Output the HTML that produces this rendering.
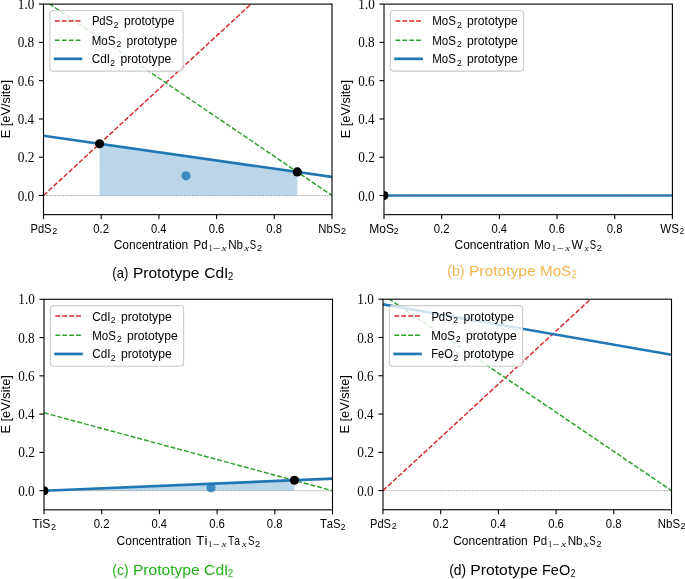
<!DOCTYPE html>
<html><head><meta charset="utf-8"><style>
html,body{margin:0;padding:0;background:#fff;overflow:hidden;}
svg{display:block;will-change:transform;}
text{font-kerning:none;}
</style></head><body>
<svg width="685" height="579" viewBox="0 0 685 579">
<rect width="685" height="579" fill="#fff"/>
<clipPath id="clipa"><rect x="43.5" y="4.1" width="288.5" height="210.54"/></clipPath>
<clipPath id="clipb"><rect x="384.0" y="4.1" width="288.4" height="210.54"/></clipPath>
<clipPath id="clipc"><rect x="44.0" y="299.3" width="288.5" height="210.54"/></clipPath>
<clipPath id="clipd"><rect x="383.0" y="299.2" width="288.5" height="210.54"/></clipPath>
<line x1="43.5" y1="195.5" x2="332.0" y2="195.5" stroke="#808080" stroke-width="0.6" stroke-dasharray="1.8 0.9" clip-path="url(#clipa)"/>
<polygon points="99.58,195.5 99.58,143.76 297.29,171.96 297.29,195.5" fill="#1f77b4" fill-opacity="0.3" clip-path="url(#clipa)"/>
<line x1="43.5" y1="195.5" x2="332.0" y2="-70.55" stroke="#d62728" stroke-width="1.45" stroke-dasharray="4.9 2.0" clip-path="url(#clipa)"/>
<line x1="43.5" y1="-0.23" x2="332.0" y2="195.5" stroke="#2ca02c" stroke-width="1.45" stroke-dasharray="4.9 2.0" clip-path="url(#clipa)"/>
<line x1="43.5" y1="135.78" x2="332.0" y2="176.9" stroke="#1f77b4" stroke-width="2.6" clip-path="url(#clipa)"/>
<circle cx="186.02" cy="175.79" r="4.6" fill="#1f77b4" fill-opacity="0.8" clip-path="url(#clipa)"/>
<circle cx="99.58" cy="143.76" r="4.6" fill="#000" clip-path="url(#clipa)"/>
<circle cx="297.29" cy="171.96" r="4.6" fill="#000" clip-path="url(#clipa)"/>
<rect x="43.5" y="4.1" width="288.5" height="210.54" fill="none" stroke="#000" stroke-width="1.1"/>
<line x1="38.9" y1="195.5" x2="43.5" y2="195.5" stroke="#000" stroke-width="1.1"/>
<line x1="43.5" y1="214.64" x2="43.5" y2="219.04" stroke="#000" stroke-width="1.1"/>
<line x1="38.9" y1="157.22" x2="43.5" y2="157.22" stroke="#000" stroke-width="1.1"/>
<line x1="101.2" y1="214.64" x2="101.2" y2="219.04" stroke="#000" stroke-width="1.1"/>
<line x1="38.9" y1="118.94" x2="43.5" y2="118.94" stroke="#000" stroke-width="1.1"/>
<line x1="158.9" y1="214.64" x2="158.9" y2="219.04" stroke="#000" stroke-width="1.1"/>
<line x1="38.9" y1="80.66" x2="43.5" y2="80.66" stroke="#000" stroke-width="1.1"/>
<line x1="216.6" y1="214.64" x2="216.6" y2="219.04" stroke="#000" stroke-width="1.1"/>
<line x1="38.9" y1="42.38" x2="43.5" y2="42.38" stroke="#000" stroke-width="1.1"/>
<line x1="274.3" y1="214.64" x2="274.3" y2="219.04" stroke="#000" stroke-width="1.1"/>
<line x1="38.9" y1="4.1" x2="43.5" y2="4.1" stroke="#000" stroke-width="1.1"/>
<line x1="332.0" y1="214.64" x2="332.0" y2="219.04" stroke="#000" stroke-width="1.1"/>
<text x="17.7" y="200.55" font-size="13.6" font-family='"Liberation Serif", serif' textLength="16.51" lengthAdjust="spacingAndGlyphs">0.0</text>
<text x="17.69" y="162.27" font-size="13.6" font-family='"Liberation Serif", serif' textLength="16.75" lengthAdjust="spacingAndGlyphs">0.2</text>
<text x="17.71" y="123.99" font-size="13.6" font-family='"Liberation Serif", serif' textLength="16.2" lengthAdjust="spacingAndGlyphs">0.4</text>
<text x="17.7" y="85.71" font-size="13.6" font-family='"Liberation Serif", serif' textLength="16.39" lengthAdjust="spacingAndGlyphs">0.6</text>
<text x="17.7" y="47.43" font-size="13.6" font-family='"Liberation Serif", serif' textLength="16.51" lengthAdjust="spacingAndGlyphs">0.8</text>
<text x="17.84" y="9.15" font-size="13.6" font-family='"Liberation Serif", serif' textLength="16.46" lengthAdjust="spacingAndGlyphs">1.0</text>
<rect x="49.9" y="10.5" width="133.2" height="60.6" rx="3" ry="3" fill="#fff" fill-opacity="0.8" stroke="#cccccc" stroke-width="1.1"/>
<line x1="54.9" y1="20.95" x2="81.2" y2="20.95" stroke="#d62728" stroke-width="1.5" stroke-dasharray="4.8 2.1"/>
<text x="91.88" y="25.45" font-size="12.6" font-family='"Liberation Sans", sans-serif' textLength="21.24" lengthAdjust="spacingAndGlyphs">PdS</text>
<text x="113.67" y="27.65" font-size="9.4" font-family='"Liberation Sans", sans-serif' textLength="4.76" lengthAdjust="spacingAndGlyphs">2</text>
<text x="123.92" y="25.45" font-size="12.6" font-family='"Liberation Sans", sans-serif' textLength="50.62" lengthAdjust="spacingAndGlyphs">prototype</text>
<line x1="54.9" y1="40.15" x2="81.2" y2="40.15" stroke="#2ca02c" stroke-width="1.5" stroke-dasharray="4.8 2.1"/>
<text x="91.66" y="44.6" font-size="12.6" font-family='"Liberation Sans", sans-serif' textLength="23.67" lengthAdjust="spacingAndGlyphs">MoS</text>
<text x="116.57" y="46.8" font-size="9.4" font-family='"Liberation Sans", sans-serif' textLength="4.76" lengthAdjust="spacingAndGlyphs">2</text>
<text x="126.52" y="44.6" font-size="12.6" font-family='"Liberation Sans", sans-serif' textLength="50.72" lengthAdjust="spacingAndGlyphs">prototype</text>
<line x1="53.8" y1="58.85" x2="82.3" y2="58.85" stroke="#1f77b4" stroke-width="2.7"/>
<text x="91.8" y="63.3" font-size="12.6" font-family='"Liberation Sans", sans-serif' textLength="18.28" lengthAdjust="spacingAndGlyphs">CdI</text>
<text x="110.17" y="65.5" font-size="9.4" font-family='"Liberation Sans", sans-serif' textLength="4.76" lengthAdjust="spacingAndGlyphs">2</text>
<text x="120.52" y="63.3" font-size="12.6" font-family='"Liberation Sans", sans-serif' textLength="50.62" lengthAdjust="spacingAndGlyphs">prototype</text>
<text x="93.26" y="232.8" font-size="12.3" font-family='"Liberation Sans", sans-serif' textLength="15.82" lengthAdjust="spacingAndGlyphs">0.2</text>
<text x="150.96" y="232.8" font-size="12.3" font-family='"Liberation Sans", sans-serif' textLength="15.57" lengthAdjust="spacingAndGlyphs">0.4</text>
<text x="208.66" y="232.8" font-size="12.3" font-family='"Liberation Sans", sans-serif' textLength="15.74" lengthAdjust="spacingAndGlyphs">0.6</text>
<text x="266.36" y="232.8" font-size="12.3" font-family='"Liberation Sans", sans-serif' textLength="15.73" lengthAdjust="spacingAndGlyphs">0.8</text>
<text x="30.49" y="232.8" font-size="12.3" font-family='"Liberation Sans", sans-serif' textLength="21.02" lengthAdjust="spacingAndGlyphs">PdS</text>
<text x="52.15" y="234.2" font-size="8.6" font-family='"Liberation Sans", sans-serif' textLength="5.01" lengthAdjust="spacingAndGlyphs">2</text>
<text x="318.37" y="232.8" font-size="12.3" font-family='"Liberation Sans", sans-serif' textLength="22.16" lengthAdjust="spacingAndGlyphs">NbS</text>
<text x="341.04" y="234.2" font-size="8.6" font-family='"Liberation Sans", sans-serif' textLength="5.13" lengthAdjust="spacingAndGlyphs">2</text>
<text x="113.69" y="248.7" font-size="12.2" font-family='"Liberation Sans", sans-serif' textLength="74.59" lengthAdjust="spacingAndGlyphs">Concentration</text>
<text x="193.56" y="248.7" font-size="12.2" font-family='"Liberation Sans", sans-serif' textLength="14.09" lengthAdjust="spacingAndGlyphs">Pd</text>
<text x="208.43" y="251.1" font-size="8.6" font-family='"Liberation Serif", serif' fill="#111">1</text>
<text x="213.61" y="251.1" font-size="8.6" font-family='"Liberation Serif", serif' fill="#111" textLength="6.67" lengthAdjust="spacingAndGlyphs" stroke="#111" stroke-width="0.15">−</text>
<text x="221.64" y="251.1" font-size="8.6" font-family='"Liberation Serif", serif' font-style="italic" fill="#111" textLength="5.24" lengthAdjust="spacingAndGlyphs">x</text>
<text x="228.14" y="248.7" font-size="12.2" font-family='"Liberation Sans", sans-serif' textLength="14.95" lengthAdjust="spacingAndGlyphs">Nb</text>
<text x="244.33" y="251.1" font-size="8.6" font-family='"Liberation Serif", serif' font-style="italic" fill="#111" textLength="4.85" lengthAdjust="spacingAndGlyphs">x</text>
<text x="249.87" y="248.7" font-size="12.2" font-family='"Liberation Sans", sans-serif' textLength="6.37" lengthAdjust="spacingAndGlyphs">S</text>
<text x="256.94" y="250.7" font-size="8.4" font-family='"Liberation Sans", sans-serif' textLength="5.13" lengthAdjust="spacingAndGlyphs">2</text>
<text transform="rotate(-90)" x="-138.35" y="9.8" font-size="12.2" font-family='"Liberation Sans", sans-serif' textLength="58.36" lengthAdjust="spacingAndGlyphs">E [eV/site]</text>
<line x1="384.0" y1="195.5" x2="672.4" y2="195.5" stroke="#1f77b4" stroke-width="2.6" clip-path="url(#clipb)"/>
<line x1="384.0" y1="195.5" x2="672.4" y2="195.5" stroke="#808080" stroke-width="0.6" stroke-dasharray="1.8 0.9" clip-path="url(#clipb)"/>
<circle cx="384.0" cy="195.5" r="4.5" fill="#000" clip-path="url(#clipb)"/>
<rect x="384.0" y="4.1" width="288.4" height="210.54" fill="none" stroke="#000" stroke-width="1.1"/>
<line x1="379.4" y1="195.5" x2="384.0" y2="195.5" stroke="#000" stroke-width="1.1"/>
<line x1="384.0" y1="214.64" x2="384.0" y2="219.04" stroke="#000" stroke-width="1.1"/>
<line x1="379.4" y1="157.22" x2="384.0" y2="157.22" stroke="#000" stroke-width="1.1"/>
<line x1="441.68" y1="214.64" x2="441.68" y2="219.04" stroke="#000" stroke-width="1.1"/>
<line x1="379.4" y1="118.94" x2="384.0" y2="118.94" stroke="#000" stroke-width="1.1"/>
<line x1="499.36" y1="214.64" x2="499.36" y2="219.04" stroke="#000" stroke-width="1.1"/>
<line x1="379.4" y1="80.66" x2="384.0" y2="80.66" stroke="#000" stroke-width="1.1"/>
<line x1="557.04" y1="214.64" x2="557.04" y2="219.04" stroke="#000" stroke-width="1.1"/>
<line x1="379.4" y1="42.38" x2="384.0" y2="42.38" stroke="#000" stroke-width="1.1"/>
<line x1="614.72" y1="214.64" x2="614.72" y2="219.04" stroke="#000" stroke-width="1.1"/>
<line x1="379.4" y1="4.1" x2="384.0" y2="4.1" stroke="#000" stroke-width="1.1"/>
<line x1="672.4" y1="214.64" x2="672.4" y2="219.04" stroke="#000" stroke-width="1.1"/>
<text x="358.2" y="200.55" font-size="13.6" font-family='"Liberation Serif", serif' textLength="16.51" lengthAdjust="spacingAndGlyphs">0.0</text>
<text x="358.19" y="162.27" font-size="13.6" font-family='"Liberation Serif", serif' textLength="16.75" lengthAdjust="spacingAndGlyphs">0.2</text>
<text x="358.21" y="123.99" font-size="13.6" font-family='"Liberation Serif", serif' textLength="16.2" lengthAdjust="spacingAndGlyphs">0.4</text>
<text x="358.2" y="85.71" font-size="13.6" font-family='"Liberation Serif", serif' textLength="16.39" lengthAdjust="spacingAndGlyphs">0.6</text>
<text x="358.2" y="47.43" font-size="13.6" font-family='"Liberation Serif", serif' textLength="16.51" lengthAdjust="spacingAndGlyphs">0.8</text>
<text x="358.34" y="9.15" font-size="13.6" font-family='"Liberation Serif", serif' textLength="16.46" lengthAdjust="spacingAndGlyphs">1.0</text>
<rect x="390.4" y="10.5" width="133.2" height="60.6" rx="3" ry="3" fill="#fff" fill-opacity="0.8" stroke="#cccccc" stroke-width="1.1"/>
<line x1="395.4" y1="20.95" x2="421.7" y2="20.95" stroke="#d62728" stroke-width="1.5" stroke-dasharray="4.8 2.1"/>
<text x="432.16" y="25.45" font-size="12.6" font-family='"Liberation Sans", sans-serif' textLength="23.67" lengthAdjust="spacingAndGlyphs">MoS</text>
<text x="457.07" y="27.65" font-size="9.4" font-family='"Liberation Sans", sans-serif' textLength="4.76" lengthAdjust="spacingAndGlyphs">2</text>
<text x="467.02" y="25.45" font-size="12.6" font-family='"Liberation Sans", sans-serif' textLength="50.72" lengthAdjust="spacingAndGlyphs">prototype</text>
<line x1="395.4" y1="40.15" x2="421.7" y2="40.15" stroke="#2ca02c" stroke-width="1.5" stroke-dasharray="4.8 2.1"/>
<text x="432.16" y="44.6" font-size="12.6" font-family='"Liberation Sans", sans-serif' textLength="23.67" lengthAdjust="spacingAndGlyphs">MoS</text>
<text x="457.07" y="46.8" font-size="9.4" font-family='"Liberation Sans", sans-serif' textLength="4.76" lengthAdjust="spacingAndGlyphs">2</text>
<text x="467.02" y="44.6" font-size="12.6" font-family='"Liberation Sans", sans-serif' textLength="50.72" lengthAdjust="spacingAndGlyphs">prototype</text>
<line x1="394.3" y1="58.85" x2="422.8" y2="58.85" stroke="#1f77b4" stroke-width="2.7"/>
<text x="432.16" y="63.3" font-size="12.6" font-family='"Liberation Sans", sans-serif' textLength="23.67" lengthAdjust="spacingAndGlyphs">MoS</text>
<text x="457.07" y="65.5" font-size="9.4" font-family='"Liberation Sans", sans-serif' textLength="4.76" lengthAdjust="spacingAndGlyphs">2</text>
<text x="467.02" y="63.3" font-size="12.6" font-family='"Liberation Sans", sans-serif' textLength="50.72" lengthAdjust="spacingAndGlyphs">prototype</text>
<text x="433.74" y="232.8" font-size="12.3" font-family='"Liberation Sans", sans-serif' textLength="15.82" lengthAdjust="spacingAndGlyphs">0.2</text>
<text x="491.42" y="232.8" font-size="12.3" font-family='"Liberation Sans", sans-serif' textLength="15.57" lengthAdjust="spacingAndGlyphs">0.4</text>
<text x="549.1" y="232.8" font-size="12.3" font-family='"Liberation Sans", sans-serif' textLength="15.74" lengthAdjust="spacingAndGlyphs">0.6</text>
<text x="606.78" y="232.8" font-size="12.3" font-family='"Liberation Sans", sans-serif' textLength="15.73" lengthAdjust="spacingAndGlyphs">0.8</text>
<text x="369.21" y="232.8" font-size="12.3" font-family='"Liberation Sans", sans-serif' textLength="24.74" lengthAdjust="spacingAndGlyphs">MoS</text>
<text x="393.85" y="234.2" font-size="8.6" font-family='"Liberation Sans", sans-serif' textLength="5.01" lengthAdjust="spacingAndGlyphs">2</text>
<text x="660.15" y="232.8" font-size="12.3" font-family='"Liberation Sans", sans-serif' textLength="18.79" lengthAdjust="spacingAndGlyphs">WS</text>
<text x="679.81" y="234.2" font-size="8.6" font-family='"Liberation Sans", sans-serif' textLength="4.27" lengthAdjust="spacingAndGlyphs">2</text>
<text x="454.49" y="248.7" font-size="12.2" font-family='"Liberation Sans", sans-serif' textLength="74.89" lengthAdjust="spacingAndGlyphs">Concentration</text>
<text x="534.34" y="248.7" font-size="12.2" font-family='"Liberation Sans", sans-serif' textLength="16.25" lengthAdjust="spacingAndGlyphs">Mo</text>
<text x="551.78" y="251.1" font-size="8.6" font-family='"Liberation Serif", serif' fill="#111">1</text>
<text x="557.55" y="251.1" font-size="8.6" font-family='"Liberation Serif", serif' fill="#111" textLength="6.18" lengthAdjust="spacingAndGlyphs" stroke="#111" stroke-width="0.15">−</text>
<text x="565.33" y="251.1" font-size="8.6" font-family='"Liberation Serif", serif' font-style="italic" fill="#111" textLength="4.75" lengthAdjust="spacingAndGlyphs">x</text>
<text x="571.55" y="248.7" font-size="12.2" font-family='"Liberation Sans", sans-serif' textLength="11.39" lengthAdjust="spacingAndGlyphs">W</text>
<text x="584.61" y="251.1" font-size="8.6" font-family='"Liberation Serif", serif' font-style="italic" fill="#111" textLength="4.15" lengthAdjust="spacingAndGlyphs">x</text>
<text x="589.77" y="248.7" font-size="12.2" font-family='"Liberation Sans", sans-serif' textLength="6.37" lengthAdjust="spacingAndGlyphs">S</text>
<text x="596.84" y="250.7" font-size="8.4" font-family='"Liberation Sans", sans-serif' textLength="5.13" lengthAdjust="spacingAndGlyphs">2</text>
<text transform="rotate(-90)" x="-138.35" y="350.4" font-size="12.2" font-family='"Liberation Sans", sans-serif' textLength="58.36" lengthAdjust="spacingAndGlyphs">E [eV/site]</text>
<line x1="44.0" y1="490.7" x2="332.5" y2="490.7" stroke="#808080" stroke-width="0.6" stroke-dasharray="1.8 0.9" clip-path="url(#clipc)"/>
<polygon points="44.0,490.7 294.42,480.23 294.42,490.7" fill="#1f77b4" fill-opacity="0.3" clip-path="url(#clipc)"/>
<line x1="44.0" y1="412.8" x2="332.5" y2="490.7" stroke="#2ca02c" stroke-width="1.45" stroke-dasharray="4.9 2.0" clip-path="url(#clipc)"/>
<line x1="44.0" y1="490.7" x2="332.5" y2="478.64" stroke="#1f77b4" stroke-width="2.6" clip-path="url(#clipc)"/>
<circle cx="211.04" cy="487.64" r="4.6" fill="#1f77b4" fill-opacity="0.8" clip-path="url(#clipc)"/>
<circle cx="44.0" cy="490.7" r="4.5" fill="#000" clip-path="url(#clipc)"/>
<circle cx="294.42" cy="480.23" r="4.6" fill="#000" clip-path="url(#clipc)"/>
<rect x="44.0" y="299.3" width="288.5" height="210.54" fill="none" stroke="#000" stroke-width="1.1"/>
<line x1="39.4" y1="490.7" x2="44.0" y2="490.7" stroke="#000" stroke-width="1.1"/>
<line x1="44.0" y1="509.84" x2="44.0" y2="514.24" stroke="#000" stroke-width="1.1"/>
<line x1="39.4" y1="452.42" x2="44.0" y2="452.42" stroke="#000" stroke-width="1.1"/>
<line x1="101.7" y1="509.84" x2="101.7" y2="514.24" stroke="#000" stroke-width="1.1"/>
<line x1="39.4" y1="414.14" x2="44.0" y2="414.14" stroke="#000" stroke-width="1.1"/>
<line x1="159.4" y1="509.84" x2="159.4" y2="514.24" stroke="#000" stroke-width="1.1"/>
<line x1="39.4" y1="375.86" x2="44.0" y2="375.86" stroke="#000" stroke-width="1.1"/>
<line x1="217.1" y1="509.84" x2="217.1" y2="514.24" stroke="#000" stroke-width="1.1"/>
<line x1="39.4" y1="337.58" x2="44.0" y2="337.58" stroke="#000" stroke-width="1.1"/>
<line x1="274.8" y1="509.84" x2="274.8" y2="514.24" stroke="#000" stroke-width="1.1"/>
<line x1="39.4" y1="299.3" x2="44.0" y2="299.3" stroke="#000" stroke-width="1.1"/>
<line x1="332.5" y1="509.84" x2="332.5" y2="514.24" stroke="#000" stroke-width="1.1"/>
<text x="18.2" y="495.75" font-size="13.6" font-family='"Liberation Serif", serif' textLength="16.51" lengthAdjust="spacingAndGlyphs">0.0</text>
<text x="18.19" y="457.47" font-size="13.6" font-family='"Liberation Serif", serif' textLength="16.75" lengthAdjust="spacingAndGlyphs">0.2</text>
<text x="18.21" y="419.19" font-size="13.6" font-family='"Liberation Serif", serif' textLength="16.2" lengthAdjust="spacingAndGlyphs">0.4</text>
<text x="18.2" y="380.91" font-size="13.6" font-family='"Liberation Serif", serif' textLength="16.39" lengthAdjust="spacingAndGlyphs">0.6</text>
<text x="18.2" y="342.63" font-size="13.6" font-family='"Liberation Serif", serif' textLength="16.51" lengthAdjust="spacingAndGlyphs">0.8</text>
<text x="18.34" y="304.35" font-size="13.6" font-family='"Liberation Serif", serif' textLength="16.46" lengthAdjust="spacingAndGlyphs">1.0</text>
<rect x="50.4" y="305.6" width="133.2" height="60.6" rx="3" ry="3" fill="#fff" fill-opacity="0.8" stroke="#cccccc" stroke-width="1.1"/>
<line x1="55.4" y1="316.05" x2="81.7" y2="316.05" stroke="#d62728" stroke-width="1.5" stroke-dasharray="4.8 2.1"/>
<text x="92.3" y="320.55" font-size="12.6" font-family='"Liberation Sans", sans-serif' textLength="18.28" lengthAdjust="spacingAndGlyphs">CdI</text>
<text x="110.67" y="322.75" font-size="9.4" font-family='"Liberation Sans", sans-serif' textLength="4.76" lengthAdjust="spacingAndGlyphs">2</text>
<text x="121.02" y="320.55" font-size="12.6" font-family='"Liberation Sans", sans-serif' textLength="50.62" lengthAdjust="spacingAndGlyphs">prototype</text>
<line x1="55.4" y1="335.25" x2="81.7" y2="335.25" stroke="#2ca02c" stroke-width="1.5" stroke-dasharray="4.8 2.1"/>
<text x="92.16" y="339.7" font-size="12.6" font-family='"Liberation Sans", sans-serif' textLength="23.67" lengthAdjust="spacingAndGlyphs">MoS</text>
<text x="117.07" y="341.9" font-size="9.4" font-family='"Liberation Sans", sans-serif' textLength="4.76" lengthAdjust="spacingAndGlyphs">2</text>
<text x="127.02" y="339.7" font-size="12.6" font-family='"Liberation Sans", sans-serif' textLength="50.72" lengthAdjust="spacingAndGlyphs">prototype</text>
<line x1="54.3" y1="353.95" x2="82.8" y2="353.95" stroke="#1f77b4" stroke-width="2.7"/>
<text x="92.3" y="358.4" font-size="12.6" font-family='"Liberation Sans", sans-serif' textLength="18.28" lengthAdjust="spacingAndGlyphs">CdI</text>
<text x="110.67" y="360.6" font-size="9.4" font-family='"Liberation Sans", sans-serif' textLength="4.76" lengthAdjust="spacingAndGlyphs">2</text>
<text x="121.02" y="358.4" font-size="12.6" font-family='"Liberation Sans", sans-serif' textLength="50.62" lengthAdjust="spacingAndGlyphs">prototype</text>
<text x="93.76" y="528.1" font-size="12.3" font-family='"Liberation Sans", sans-serif' textLength="15.82" lengthAdjust="spacingAndGlyphs">0.2</text>
<text x="151.46" y="528.1" font-size="12.3" font-family='"Liberation Sans", sans-serif' textLength="15.57" lengthAdjust="spacingAndGlyphs">0.4</text>
<text x="209.16" y="528.1" font-size="12.3" font-family='"Liberation Sans", sans-serif' textLength="15.74" lengthAdjust="spacingAndGlyphs">0.6</text>
<text x="266.86" y="528.1" font-size="12.3" font-family='"Liberation Sans", sans-serif' textLength="15.73" lengthAdjust="spacingAndGlyphs">0.8</text>
<text x="32.23" y="528.1" font-size="12.3" font-family='"Liberation Sans", sans-serif' textLength="18.13" lengthAdjust="spacingAndGlyphs">TiS</text>
<text x="50.95" y="529.5" font-size="8.6" font-family='"Liberation Sans", sans-serif' textLength="5.01" lengthAdjust="spacingAndGlyphs">2</text>
<text x="319.95" y="528.1" font-size="12.3" font-family='"Liberation Sans", sans-serif' textLength="20.57" lengthAdjust="spacingAndGlyphs">TaS</text>
<text x="340.67" y="529.5" font-size="8.6" font-family='"Liberation Sans", sans-serif' textLength="4.76" lengthAdjust="spacingAndGlyphs">2</text>
<text x="116.59" y="544.7" font-size="12.2" font-family='"Liberation Sans", sans-serif' textLength="74.69" lengthAdjust="spacingAndGlyphs">Concentration</text>
<text x="196.09" y="544.7" font-size="12.2" font-family='"Liberation Sans", sans-serif' textLength="11.43" lengthAdjust="spacingAndGlyphs">Ti</text>
<text x="207.98" y="547.1" font-size="8.6" font-family='"Liberation Serif", serif' fill="#111">1</text>
<text x="213.64" y="547.1" font-size="8.6" font-family='"Liberation Serif", serif' fill="#111" textLength="6.3" lengthAdjust="spacingAndGlyphs" stroke="#111" stroke-width="0.15">−</text>
<text x="221.44" y="547.1" font-size="8.6" font-family='"Liberation Serif", serif' font-style="italic" fill="#111" textLength="5.14" lengthAdjust="spacingAndGlyphs">x</text>
<text x="228.07" y="544.7" font-size="12.2" font-family='"Liberation Sans", sans-serif' textLength="12.03" lengthAdjust="spacingAndGlyphs">Ta</text>
<text x="242.13" y="547.1" font-size="8.6" font-family='"Liberation Serif", serif' font-style="italic" fill="#111" textLength="4.75" lengthAdjust="spacingAndGlyphs">x</text>
<text x="247.97" y="544.7" font-size="12.2" font-family='"Liberation Sans", sans-serif' textLength="6.37" lengthAdjust="spacingAndGlyphs">S</text>
<text x="255.04" y="546.7" font-size="8.4" font-family='"Liberation Sans", sans-serif' textLength="5.13" lengthAdjust="spacingAndGlyphs">2</text>
<text transform="rotate(-90)" x="-433.55" y="10.3" font-size="12.2" font-family='"Liberation Sans", sans-serif' textLength="58.36" lengthAdjust="spacingAndGlyphs">E [eV/site]</text>
<line x1="383.0" y1="490.6" x2="671.5" y2="490.6" stroke="#808080" stroke-width="0.6" stroke-dasharray="1.8 0.9" clip-path="url(#clipd)"/>
<line x1="383.0" y1="490.6" x2="671.5" y2="224.55" stroke="#d62728" stroke-width="1.45" stroke-dasharray="4.9 2.0" clip-path="url(#clipd)"/>
<line x1="383.0" y1="294.87" x2="671.5" y2="490.6" stroke="#2ca02c" stroke-width="1.45" stroke-dasharray="4.9 2.0" clip-path="url(#clipd)"/>
<line x1="383.0" y1="304.37" x2="671.5" y2="354.8" stroke="#1f77b4" stroke-width="2.6" clip-path="url(#clipd)"/>
<rect x="383.0" y="299.2" width="288.5" height="210.54" fill="none" stroke="#000" stroke-width="1.1"/>
<line x1="378.4" y1="490.6" x2="383.0" y2="490.6" stroke="#000" stroke-width="1.1"/>
<line x1="383.0" y1="509.74" x2="383.0" y2="514.14" stroke="#000" stroke-width="1.1"/>
<line x1="378.4" y1="452.32" x2="383.0" y2="452.32" stroke="#000" stroke-width="1.1"/>
<line x1="440.7" y1="509.74" x2="440.7" y2="514.14" stroke="#000" stroke-width="1.1"/>
<line x1="378.4" y1="414.04" x2="383.0" y2="414.04" stroke="#000" stroke-width="1.1"/>
<line x1="498.4" y1="509.74" x2="498.4" y2="514.14" stroke="#000" stroke-width="1.1"/>
<line x1="378.4" y1="375.76" x2="383.0" y2="375.76" stroke="#000" stroke-width="1.1"/>
<line x1="556.1" y1="509.74" x2="556.1" y2="514.14" stroke="#000" stroke-width="1.1"/>
<line x1="378.4" y1="337.48" x2="383.0" y2="337.48" stroke="#000" stroke-width="1.1"/>
<line x1="613.8" y1="509.74" x2="613.8" y2="514.14" stroke="#000" stroke-width="1.1"/>
<line x1="378.4" y1="299.2" x2="383.0" y2="299.2" stroke="#000" stroke-width="1.1"/>
<line x1="671.5" y1="509.74" x2="671.5" y2="514.14" stroke="#000" stroke-width="1.1"/>
<text x="357.2" y="495.65" font-size="13.6" font-family='"Liberation Serif", serif' textLength="16.51" lengthAdjust="spacingAndGlyphs">0.0</text>
<text x="357.19" y="457.37" font-size="13.6" font-family='"Liberation Serif", serif' textLength="16.75" lengthAdjust="spacingAndGlyphs">0.2</text>
<text x="357.21" y="419.09" font-size="13.6" font-family='"Liberation Serif", serif' textLength="16.2" lengthAdjust="spacingAndGlyphs">0.4</text>
<text x="357.2" y="380.81" font-size="13.6" font-family='"Liberation Serif", serif' textLength="16.39" lengthAdjust="spacingAndGlyphs">0.6</text>
<text x="357.2" y="342.53" font-size="13.6" font-family='"Liberation Serif", serif' textLength="16.51" lengthAdjust="spacingAndGlyphs">0.8</text>
<text x="357.34" y="304.25" font-size="13.6" font-family='"Liberation Serif", serif' textLength="16.46" lengthAdjust="spacingAndGlyphs">1.0</text>
<rect x="389.4" y="305.6" width="133.2" height="60.6" rx="3" ry="3" fill="#fff" fill-opacity="0.8" stroke="#cccccc" stroke-width="1.1"/>
<line x1="394.4" y1="316.05" x2="420.7" y2="316.05" stroke="#d62728" stroke-width="1.5" stroke-dasharray="4.8 2.1"/>
<text x="431.38" y="320.55" font-size="12.6" font-family='"Liberation Sans", sans-serif' textLength="21.24" lengthAdjust="spacingAndGlyphs">PdS</text>
<text x="453.17" y="322.75" font-size="9.4" font-family='"Liberation Sans", sans-serif' textLength="4.76" lengthAdjust="spacingAndGlyphs">2</text>
<text x="463.42" y="320.55" font-size="12.6" font-family='"Liberation Sans", sans-serif' textLength="50.62" lengthAdjust="spacingAndGlyphs">prototype</text>
<line x1="394.4" y1="335.25" x2="420.7" y2="335.25" stroke="#2ca02c" stroke-width="1.5" stroke-dasharray="4.8 2.1"/>
<text x="431.16" y="339.7" font-size="12.6" font-family='"Liberation Sans", sans-serif' textLength="23.67" lengthAdjust="spacingAndGlyphs">MoS</text>
<text x="456.07" y="341.9" font-size="9.4" font-family='"Liberation Sans", sans-serif' textLength="4.76" lengthAdjust="spacingAndGlyphs">2</text>
<text x="466.02" y="339.7" font-size="12.6" font-family='"Liberation Sans", sans-serif' textLength="50.72" lengthAdjust="spacingAndGlyphs">prototype</text>
<line x1="393.3" y1="353.95" x2="421.8" y2="353.95" stroke="#1f77b4" stroke-width="2.7"/>
<text x="431.19" y="358.4" font-size="12.6" font-family='"Liberation Sans", sans-serif' textLength="21.65" lengthAdjust="spacingAndGlyphs">FeO</text>
<text x="453.14" y="360.6" font-size="9.4" font-family='"Liberation Sans", sans-serif' textLength="5.13" lengthAdjust="spacingAndGlyphs">2</text>
<text x="463.42" y="358.4" font-size="12.6" font-family='"Liberation Sans", sans-serif' textLength="50.72" lengthAdjust="spacingAndGlyphs">prototype</text>
<text x="432.76" y="528.0" font-size="12.3" font-family='"Liberation Sans", sans-serif' textLength="15.82" lengthAdjust="spacingAndGlyphs">0.2</text>
<text x="490.46" y="528.0" font-size="12.3" font-family='"Liberation Sans", sans-serif' textLength="15.57" lengthAdjust="spacingAndGlyphs">0.4</text>
<text x="548.16" y="528.0" font-size="12.3" font-family='"Liberation Sans", sans-serif' textLength="15.74" lengthAdjust="spacingAndGlyphs">0.6</text>
<text x="605.86" y="528.0" font-size="12.3" font-family='"Liberation Sans", sans-serif' textLength="15.73" lengthAdjust="spacingAndGlyphs">0.8</text>
<text x="369.99" y="528.0" font-size="12.3" font-family='"Liberation Sans", sans-serif' textLength="21.02" lengthAdjust="spacingAndGlyphs">PdS</text>
<text x="391.65" y="529.4" font-size="8.6" font-family='"Liberation Sans", sans-serif' textLength="5.01" lengthAdjust="spacingAndGlyphs">2</text>
<text x="657.87" y="528.0" font-size="12.3" font-family='"Liberation Sans", sans-serif' textLength="22.16" lengthAdjust="spacingAndGlyphs">NbS</text>
<text x="680.54" y="529.4" font-size="8.6" font-family='"Liberation Sans", sans-serif' textLength="5.13" lengthAdjust="spacingAndGlyphs">2</text>
<text x="453.19" y="544.7" font-size="12.2" font-family='"Liberation Sans", sans-serif' textLength="74.59" lengthAdjust="spacingAndGlyphs">Concentration</text>
<text x="533.06" y="544.7" font-size="12.2" font-family='"Liberation Sans", sans-serif' textLength="14.09" lengthAdjust="spacingAndGlyphs">Pd</text>
<text x="547.93" y="547.1" font-size="8.6" font-family='"Liberation Serif", serif' fill="#111">1</text>
<text x="553.11" y="547.1" font-size="8.6" font-family='"Liberation Serif", serif' fill="#111" textLength="6.67" lengthAdjust="spacingAndGlyphs" stroke="#111" stroke-width="0.15">−</text>
<text x="561.14" y="547.1" font-size="8.6" font-family='"Liberation Serif", serif' font-style="italic" fill="#111" textLength="5.24" lengthAdjust="spacingAndGlyphs">x</text>
<text x="567.64" y="544.7" font-size="12.2" font-family='"Liberation Sans", sans-serif' textLength="14.95" lengthAdjust="spacingAndGlyphs">Nb</text>
<text x="583.83" y="547.1" font-size="8.6" font-family='"Liberation Serif", serif' font-style="italic" fill="#111" textLength="4.85" lengthAdjust="spacingAndGlyphs">x</text>
<text x="589.37" y="544.7" font-size="12.2" font-family='"Liberation Sans", sans-serif' textLength="6.37" lengthAdjust="spacingAndGlyphs">S</text>
<text x="596.44" y="546.7" font-size="8.4" font-family='"Liberation Sans", sans-serif' textLength="5.13" lengthAdjust="spacingAndGlyphs">2</text>
<text transform="rotate(-90)" x="-433.55" y="349.3" font-size="12.2" font-family='"Liberation Sans", sans-serif' textLength="58.36" lengthAdjust="spacingAndGlyphs">E [eV/site]</text>
<text x="112.29" y="278.3" font-size="14.5" font-family='"Liberation Sans", sans-serif' textLength="16.03" lengthAdjust="spacingAndGlyphs">(a)</text>
<text x="132.92" y="278.3" font-size="14.5" font-family='"Liberation Sans", sans-serif' textLength="66.57" lengthAdjust="spacingAndGlyphs">Prototype</text>
<text x="204.31" y="278.3" font-size="14.5" font-family='"Liberation Sans", sans-serif' textLength="24.12" lengthAdjust="spacingAndGlyphs">CdI</text>
<text x="227.93" y="279.6" font-size="10.0" font-family='"Liberation Sans", sans-serif' textLength="5.25" lengthAdjust="spacingAndGlyphs">2</text>
<text x="447.34" y="276.4" font-size="14.5" font-family='"Liberation Sans", sans-serif' fill="#f2b54c" textLength="17.03" lengthAdjust="spacingAndGlyphs">(b)</text>
<text x="468.92" y="276.4" font-size="14.5" font-family='"Liberation Sans", sans-serif' fill="#f2b54c" textLength="66.77" lengthAdjust="spacingAndGlyphs">Prototype</text>
<text x="539.95" y="276.4" font-size="14.5" font-family='"Liberation Sans", sans-serif' fill="#f2b54c" textLength="31.35" lengthAdjust="spacingAndGlyphs">MoS</text>
<text x="571.85" y="277.7" font-size="10.0" font-family='"Liberation Sans", sans-serif' fill="#f2b54c" textLength="5.01" lengthAdjust="spacingAndGlyphs">2</text>
<text x="112.23" y="575.4" font-size="14.5" font-family='"Liberation Sans", sans-serif' fill="#22b419" textLength="16.34" lengthAdjust="spacingAndGlyphs">(c)</text>
<text x="132.92" y="575.4" font-size="14.5" font-family='"Liberation Sans", sans-serif' fill="#22b419" textLength="66.77" lengthAdjust="spacingAndGlyphs">Prototype</text>
<text x="204.11" y="575.4" font-size="14.5" font-family='"Liberation Sans", sans-serif' fill="#22b419" textLength="24.34" lengthAdjust="spacingAndGlyphs">CdI</text>
<text x="227.7" y="576.7" font-size="10.0" font-family='"Liberation Sans", sans-serif' fill="#22b419" textLength="5.49" lengthAdjust="spacingAndGlyphs">2</text>
<text x="449.14" y="575.4" font-size="14.5" font-family='"Liberation Sans", sans-serif' textLength="16.92" lengthAdjust="spacingAndGlyphs">(d)</text>
<text x="470.21" y="575.4" font-size="14.5" font-family='"Liberation Sans", sans-serif' textLength="67.49" lengthAdjust="spacingAndGlyphs">Prototype</text>
<text x="541.91" y="575.4" font-size="14.5" font-family='"Liberation Sans", sans-serif' textLength="28.29" lengthAdjust="spacingAndGlyphs">FeO</text>
<text x="570.78" y="576.7" font-size="10.0" font-family='"Liberation Sans", sans-serif' textLength="4.64" lengthAdjust="spacingAndGlyphs">2</text>
</svg>
</body></html>
